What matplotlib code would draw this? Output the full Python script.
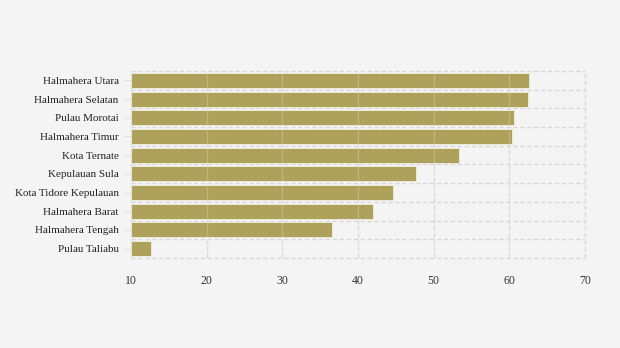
import matplotlib.pyplot as plt
import numpy as np

# Regency / city values, top to bottom
regions = ['Halmahera Utara', 'Halmahera Selatan', 'Pulau Morotai', 'Halmahera Timur',
           'Kota Ternate', 'Kepulauan Sula', 'Kota Tidore Kepulauan', 'Halmahera Barat',
           'Halmahera Tengah', 'Pulau Taliabu']
values = [62.6, 62.5, 60.6, 60.3, 53.3, 47.6, 44.6, 42.0, 36.6, 12.6]
xticks = [10, 20, 30, 40, 50, 60, 70]

plt.rcParams['font.family'] = ['Liberation Serif', 'DejaVu Serif']

fig = plt.figure(figsize=(6.2, 3.48), dpi=100, facecolor='#f4f4f4')
ax = fig.add_axes([0.2113, 0.2586, 0.7323, 0.5374], facecolor='#f4f4f4')

pos = np.arange(len(regions))
left = xticks[0]
ax.barh(pos, [v - left for v in values], left=left, height=0.8,
        color='#ada15b', edgecolor='#f1efe0', linewidth=0.6, zorder=3)

ax.set_xlim(xticks[0], xticks[-1])
ax.set_ylim(len(regions) - 0.5, -0.5)
ax.set_xticks(xticks)
ax.set_yticks(pos)
ax.set_yticklabels(regions)

for s in ax.spines.values():
    s.set_visible(False)

# dashed grid: verticals at ticks, horizontals between categories (unclipped so edges show)
grid_kw = dict(color='#d9d9d9', linestyle=(0, (3, 2)), linewidth=1, clip_on=False, zorder=1)
for x in xticks:
    ax.axvline(x, **grid_kw)
    # faint trace of the grid showing through the bars
    ax.axvline(x, color='#e0e0e0', linewidth=1, alpha=0.3, zorder=4)
for y in np.arange(len(regions) + 1) - 0.5:
    ax.axhline(y, **grid_kw)

ax.tick_params(axis='x', length=0, pad=12, labelsize=8.5, labelcolor='#333333')
ax.tick_params(axis='y', length=4, color='#dddddd', pad=5,
               labelsize=8, labelcolor='#222222')

fig.savefig('out.png', dpi=100, facecolor=fig.get_facecolor())
